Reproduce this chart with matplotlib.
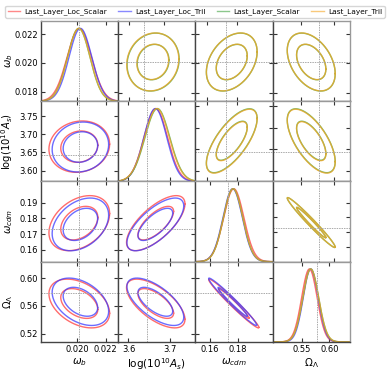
import numpy as np
import matplotlib
matplotlib.use("Agg")
import matplotlib.pyplot as plt
from matplotlib.lines import Line2D

# parameters (order: omega_b, log(10^10 A_s), omega_cdm, Omega_Lambda)
labels = [r'$\omega_b$', r'$\log(10^{10}A_s)$', r'$\omega_{cdm}$', r'$\Omega_\Lambda$']
truth = [0.0201, 3.644, 0.1730, 0.578]

# posterior summaries
model_names = ['Last_Layer_Loc_Scalar', 'Last_Layer_Loc_Tril', 'Last_Layer_Scalar', 'Last_Layer_Tril']
model_colors = ['#ff3b3b', '#3b3bff', '#3fa33f', '#f5a623']
means = [
    [0.02013, 3.666, 0.1770, 0.5635],
    [0.02021, 3.665, 0.1762, 0.5660],
    [0.02009, 3.670, 0.1765, 0.5660],
    [0.02010, 3.669, 0.1765, 0.5660],
]
sigmas = [
    [0.00087, 0.0285, 0.0071, 0.0142],
    [0.00081, 0.0277, 0.0068, 0.0138],
    [0.00080, 0.0300, 0.0068, 0.0145],
    [0.00080, 0.0300, 0.0068, 0.0145],
]
# correlation for pairs (i, j), i > j
corr = {(1, 0): 0.10, (2, 0): 0.35, (3, 0): -0.40,
        (2, 1): 0.70, (3, 1): -0.65, (3, 2): -0.98}

# axis limits
xlims = [(0.0174, 0.0229), (3.575, 3.762), (0.1500, 0.2043), (0.4962, 0.6375)]
ylims = [(0.01735, 0.0229), (3.570, 3.791), (0.1523, 0.2037), (0.508, 0.624)]
xticks = [[0.020, 0.022], [3.6, 3.7], [0.16, 0.18], [0.55, 0.60]]
xticklabels = [['0.020', '0.022'], ['3.6', '3.7'], ['0.16', '0.18'], ['0.55', '0.60']]
yticks = [[0.018, 0.020, 0.022], [3.60, 3.65, 3.70, 3.75],
          [0.16, 0.17, 0.18, 0.19], [0.52, 0.56, 0.60]]
yticklabels = [['0.018', '0.020', '0.022'], ['3.60', '3.65', '3.70', '3.75'],
               ['0.16', '0.17', '0.18', '0.19'], ['0.52', '0.56', '0.60']]

LEVELS = [np.sqrt(2.30), np.sqrt(6.17)]  # 68% and 95%
TRUTH_STYLE = dict(color='#aaaaaa', lw=0.7, ls=(0, (1.5, 1)))


def ellipse(m, i, j, r):
    # x = param j, y = param i
    rho = corr[(max(i, j), min(i, j))]
    sx, sy = sigmas[m][j], sigmas[m][i]
    cov = np.array([[sx**2, rho * sx * sy], [rho * sx * sy, sy**2]])
    L = np.linalg.cholesky(cov)
    t = np.linspace(0, 2 * np.pi, 200)
    pts = L @ np.vstack([np.cos(t), np.sin(t)]) * r
    return pts[0] + means[m][j], pts[1] + means[m][i]


fig, axes = plt.subplots(4, 4, figsize=(3.9, 3.7), dpi=100)
fig.subplots_adjust(left=0.105, right=0.897, top=0.943, bottom=0.076, wspace=0, hspace=0)

for i in range(4):
    for j in range(4):
        ax = axes[i, j]
        if i == j:
            x = np.linspace(xlims[j][0], xlims[j][1], 300)
            lo, hi = (ylims[0] if i == 0 else (0, 1.1))
            for m in range(4):
                p = np.exp(-0.5 * ((x - means[m][j]) / sigmas[m][j]) ** 2)
                ax.plot(x, lo + p * (hi - lo) / 1.1, color=model_colors[m], lw=1.0, alpha=0.75)
            ax.axvline(truth[j], **TRUTH_STYLE)
            ax.set_xlim(xlims[j])
            ax.set_ylim(lo, hi)
            ax.set_yticks(yticks[0] if i == 0 else [])
            ax.set_xticks(xticks[j])
        elif i > j:
            for m in (0, 1):
                for r in LEVELS:
                    ex, ey = ellipse(m, i, j, r)
                    ax.plot(ex, ey, color=model_colors[m], lw=1.0, alpha=0.75)
            ax.axvline(truth[j], **TRUTH_STYLE)
            ax.axhline(truth[i], **TRUTH_STYLE)
            ax.set_xlim(xlims[j])
            ax.set_ylim(ylims[i])
            ax.set_xticks(xticks[j])
            ax.set_yticks(yticks[i])
        else:
            for m in (2, 3):
                for r in LEVELS:
                    ex, ey = ellipse(m, i, j, r)
                    ax.plot(ex, ey, color=model_colors[m], lw=1.0, alpha=0.75)
            ax.axvline(truth[j], **TRUTH_STYLE)
            ax.axhline(truth[i], **TRUTH_STYLE)
            # upper panels mirror the ranges of the transposed lower panels
            ax.set_xlim(ylims[j])
            ax.set_ylim(xlims[i])
            ax.set_xticks(xticks[j])
            ax.set_yticks(yticks[i])

        ax.tick_params(direction='in', top=True, right=True, length=3, width=0.8,
                       labelsize=6.0, pad=2, color='#333333')
        if i == 3:
            ax.set_xticklabels(xticklabels[j])
            ax.set_xlabel(labels[j], fontsize=7.5, labelpad=1.5)
        else:
            ax.set_xticklabels([])
        if j == 0:
            ax.set_yticklabels(yticklabels[i])
            ax.set_ylabel(labels[i], fontsize=7.2)
        else:
            ax.set_yticklabels([])
        for side in ('left', 'bottom'):
            ax.spines[side].set_color('#444444')
            ax.spines[side].set_linewidth(1.0)
        for side in ('top', 'right'):
            ax.spines[side].set_color('#999999')
            ax.spines[side].set_linewidth(1.0)

for ax in axes[:, 0]:
    ax.yaxis.set_label_coords(-0.34, 0.5)

handles = [Line2D([], [], color=c, lw=1.0, alpha=0.6) for c in model_colors]
fig.legend(handles, model_names, loc='upper center', bbox_to_anchor=(0.5, 0.995),
           ncol=4, fontsize=5.3, frameon=True, edgecolor='#cccccc', fancybox=True,
           handlelength=1.7, columnspacing=1.5, handletextpad=0.6, borderpad=0.35)

fig.savefig('out.png', dpi=100)
